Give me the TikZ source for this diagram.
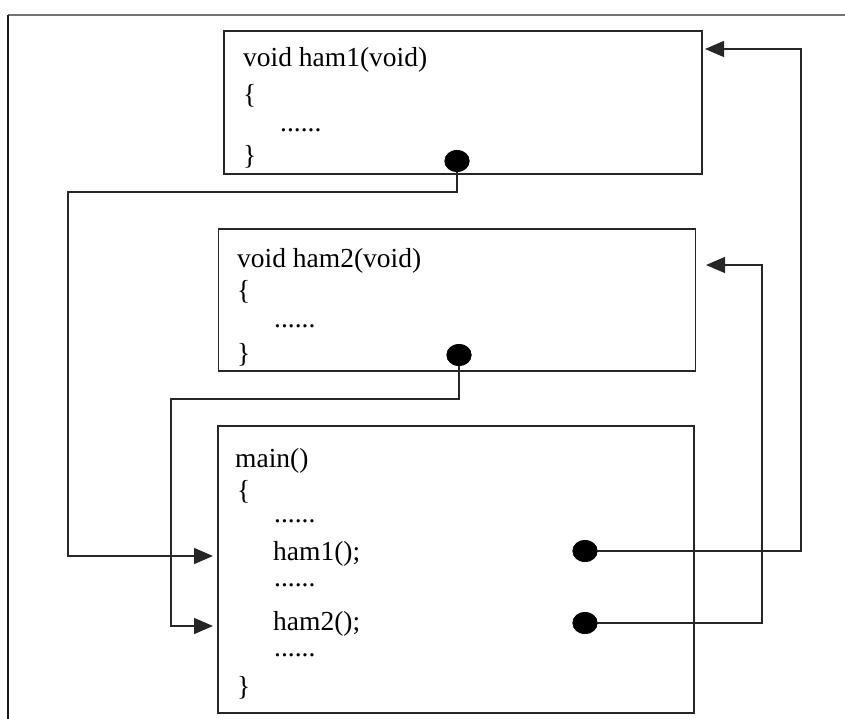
\documentclass[tikz,border=0pt]{standalone}
\usepackage{fontspec}
\setmainfont{Liberation Serif}
\usetikzlibrary{arrows.meta,shapes.geometric}
\tikzset{
  codebox/.style={draw=black!85, line width=1.6pt, rectangle, inner sep=0pt},
  code/.style={anchor=base west, inner sep=0pt, font=\fontsize{27.5}{32}\selectfont},
  blob/.style={ellipse, fill=black, draw=none, minimum width=25pt, minimum height=22pt, inner sep=0pt},
  conn/.style={draw=black!85, line width=1.4pt},
  callarrow/.style={conn, -{Triangle[length=19pt,width=16pt]}},
}
\begin{document}
\begin{tikzpicture}[x=1pt,y=-1pt]
\useasboundingbox (0,0) rectangle (845,719);

% page frame (top and left edges only)
\draw[black!55, line width=1.6pt] (845,15) -- (8,15);
\draw[black!90, line width=1.6pt] (8,15) -- (8,719);

% function boxes
\node[codebox, minimum width=478pt, minimum height=143pt] (f1) at (463,102.5) {};
\node[codebox, minimum width=477pt, minimum height=142pt] (f2) at (457,300) {};
\node[codebox, minimum width=476pt, minimum height=287pt] (mn) at (456,569.5) {};

% ham1 body
\node[code] (f1a) at (243,67) {void ham1(void)};
\node[code] (f1b) at (243,104) {\{};
\node[code] (f1c) at (280,132) {......};
\node[code] (f1d) at (243,165) {\}};

% ham2 body
\node[code] (f2a) at (237,267) {void ham2(void)};
\node[code] (f2b) at (237,299) {\{};
\node[code] (f2c) at (274,327) {......};
\node[code] (f2d) at (237,362) {\}};

% main body
\node[code] (m1) at (235,467) {main()};
\node[code] (m2) at (237,499) {\{};
\node[code] (m3) at (274,522) {......};
\node[code] (m4) at (273,560) {ham1();};
\node[code] (m5) at (274,586) {......};
\node[code] (m6) at (273,630) {ham2();};
\node[code] (m7) at (274,656) {......};
\node[code] (m8) at (237,695) {\}};

% return points and call points
\node[blob] (r1) at (457,161) {};
\node[blob] (r2) at (459,355) {};
\node[blob] (c1) at (585,551) {};
\node[blob] (c2) at (585,623) {};

% bends and arrow ends
\coordinate (b1) at (68,192);
\coordinate (b2) at (171,399);
\coordinate (t1) at (213,556);
\coordinate (t2) at (213,626);
\coordinate (b3) at (801,49);
\coordinate (t3) at (705,49);
\coordinate (b4) at (762,265);
\coordinate (t4) at (706,265);

% returns from ham1 / ham2 back into main
\draw[callarrow] (r1.center) |- (b1) |- (t1);
\draw[callarrow] (r2.center) |- (b2) |- (t2);

% calls from main into ham1 / ham2
\draw[callarrow] (c1.center) -| (b3) -- (t3);
\draw[callarrow] (c2.center) -| (b4) -- (t4);

% redraw the dots over the line ends
\fill (r1) ellipse (12.5pt and 11pt);
\fill (r2) ellipse (12.5pt and 11pt);
\fill (c1) ellipse (12.5pt and 11pt);
\fill (c2) ellipse (12.5pt and 11pt);
\end{tikzpicture}
\end{document}
